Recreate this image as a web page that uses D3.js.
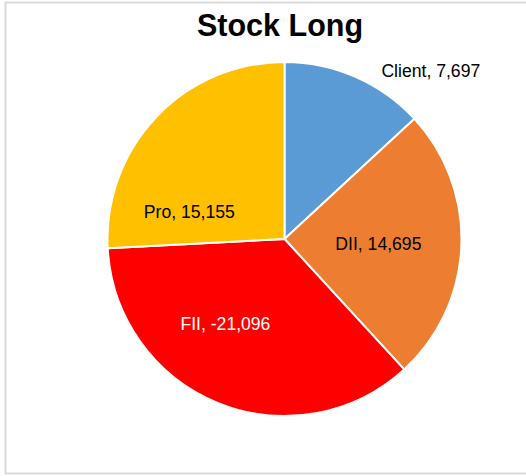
<!DOCTYPE html>
<html>
<head>
<meta charset="utf-8">
<script src="https://cdn.jsdelivr.net/npm/d3@7"></script>
<style>
  html, body { margin: 0; padding: 0; background: #fff; }
</style>
</head>
<body>
<svg id="chart" width="526" height="476"></svg>
<script>
var names = ["Client", "DII", "FII", "Pro"]
var values = [7697, 14695, -21096, 15155]
var colors = ["#5B9BD5", "#ED7D31", "#FF0000", "#FFC000"]
var labelColors = ["#000", "#000", "#fff", "#000"]

// label placement tweaks (angle in degrees from top, radius in px)
var labelPlace = {
    "Client": [41, 223],
    "DII": [93, 94],
    "FII": [215, 103],
    "Pro": [286, 99]
}

var svg = d3.select("#chart")
var cx = 284.5, cy = 239, r = 177

svg.append("rect")
    .attr("x", 5.5).attr("y", 2.5)
    .attr("width", 540).attr("height", 471)
    .attr("fill", "#fff")
    .attr("stroke", "#d9d9d9")
    .attr("stroke-width", 2)

svg.append("text")
    .attr("x", 280).attr("y", 36)
    .attr("text-anchor", "middle")
    .style("font-family", "'Liberation Sans', Arial, sans-serif")
    .style("font-weight", "bold")
    .style("font-size", "30.5px")
    .text("Stock Long")

var data = names.map(function(n, i) {
    return {name: n, value: values[i], color: colors[i], lc: labelColors[i]}
})

var pie = d3.pie()
    .sort(null)
    .value(function(d) { return Math.abs(d.value) })

var arc = d3.arc().innerRadius(0).outerRadius(r)

var g = svg.append("g").attr("transform", "translate(" + cx + "," + cy + ")")

g.selectAll("path")
    .data(pie(data))
    .enter()
    .append("path")
    .attr("d", arc)
    .attr("fill", function(d) { return d.data.color })
    .attr("stroke", "#fff")
    .attr("stroke-width", 2)
    .attr("stroke-linejoin", "round")

var fmt = d3.format(",")

g.selectAll("text.lbl")
    .data(pie(data))
    .enter()
    .append("text")
    .attr("class", "lbl")
    .attr("transform", function(d) {
        var p = labelPlace[d.data.name]
        var a = p[0] * Math.PI / 180
        return "translate(" + (Math.sin(a) * p[1]) + "," + (-Math.cos(a) * p[1]) + ")"
    })
    .attr("text-anchor", "middle")
    .attr("dy", "0.35em")
    .style("font-family", "'Liberation Sans', Arial, sans-serif")
    .style("font-size", "17.6px")
    .attr("fill", function(d) { return d.data.lc })
    .text(function(d) { return d.data.name + ", " + fmt(d.data.value).replace("\u2212", "-") })
</script>
</body>
</html>
